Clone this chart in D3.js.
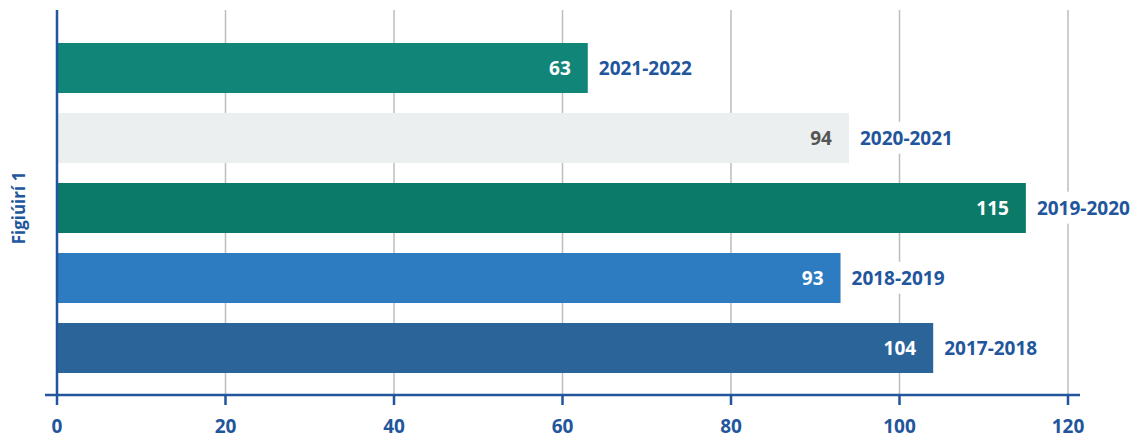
<!DOCTYPE html>
<html>
<head>
<meta charset="utf-8">
<script src="https://cdn.jsdelivr.net/npm/d3@7"></script>
<style>
  body { margin: 0; background: #fff; }
  text { font-family: "Open Sans", "Noto Sans", sans-serif; font-weight: 700; }
</style>
</head>
<body>
<div id="chart"></div>
<script>
// school years, top to bottom
var years = ["2021-2022", "2020-2021", "2019-2020", "2018-2019", "2017-2018"];
var counts = [63, 94, 115, 93, 104];
var barColors = ["#118577", "#eceff0", "#0c7a68", "#2d7bc1", "#2a6499"];
var valueColors = ["#fff", "#555", "#fff", "#fff", "#fff"];
var xTicks = [0, 20, 40, 60, 80, 100, 120];
var axisTitle = "Figiúirí 1";

var blue = "#22569c";

var svg = d3.select("#chart").append("svg").attr("width", 1140).attr("height", 438);

var x = d3.scaleLinear().domain([0, 120]).range([57, 1068]);
var y = d3.scaleBand().domain(years).range([23, 393]).padding(0.2857);

// gridlines
svg.append("g").selectAll("line")
  .data(xTicks.slice(1))
  .enter().append("line")
  .attr("x1", function (d) { return x(d); })
  .attr("x2", function (d) { return x(d); })
  .attr("y1", 10).attr("y2", 395)
  .attr("stroke", "#bdbdbd").attr("stroke-width", 1.5);

var data = years.map(function (d, i) { return {year: d, v: counts[i], i: i}; });

svg.append("g").selectAll("rect")
  .data(data)
  .enter().append("rect")
  .attr("x", x(0))
  .attr("y", function (d) { return y(d.year); })
  .attr("width", function (d) { return x(d.v) - x(0); })
  .attr("height", y.bandwidth())
  .attr("fill", function (d) { return barColors[d.i]; });

// value labels inside the bars
svg.append("g").selectAll("text")
  .data(data)
  .enter().append("text")
  .attr("x", function (d) { return x(d.v) - 17; })
  .attr("y", function (d) { return y(d.year) + y.bandwidth() / 2; })
  .attr("dy", "0.35em")
  .attr("text-anchor", "end")
  .attr("font-size", 19)
  .attr("fill", function (d) { return valueColors[d.i]; })
  .text(function (d) { return d.v; });

// year labels with a white box behind, covering the gridlines
var yl = svg.append("g").selectAll("g")
  .data(data)
  .enter().append("g");
yl.append("text")
  .attr("x", function (d) { return x(d.v) + 11; })
  .attr("y", function (d) { return y(d.year) + y.bandwidth() / 2; })
  .attr("dy", "0.35em")
  .attr("font-size", 19)
  .attr("fill", blue)
  .text(function (d) { return d.year; });
yl.each(function () {
  var t = d3.select(this).select("text");
  var b = t.node().getBBox();
  d3.select(this).insert("rect", "text")
    .attr("x", b.x - 4).attr("y", b.y - 3)
    .attr("width", b.width + 8).attr("height", b.height + 6)
    .attr("fill", "#fff");
});

// axes
svg.append("line")
  .attr("x1", x(0)).attr("x2", x(0)).attr("y1", 10).attr("y2", 395)
  .attr("stroke", blue).attr("stroke-width", 2.5);
svg.append("line")
  .attr("x1", 45).attr("x2", 1080).attr("y1", 395).attr("y2", 395)
  .attr("stroke", blue).attr("stroke-width", 2.5);

var xa = svg.append("g").selectAll("g")
  .data(xTicks)
  .enter().append("g")
  .attr("transform", function (d) { return "translate(" + x(d) + ",0)"; });
xa.append("line")
  .attr("y1", 395).attr("y2", 405)
  .attr("stroke", blue).attr("stroke-width", 2.5);
xa.append("text")
  .attr("y", 433)
  .attr("text-anchor", "middle")
  .attr("font-size", 19)
  .attr("fill", blue)
  .text(function (d) { return d; });

svg.append("text")
  .attr("transform", "translate(25,208) rotate(-90)")
  .attr("text-anchor", "middle")
  .attr("font-size", 17)
  .attr("fill", blue)
  .text(axisTitle);
</script>
</body>
</html>
